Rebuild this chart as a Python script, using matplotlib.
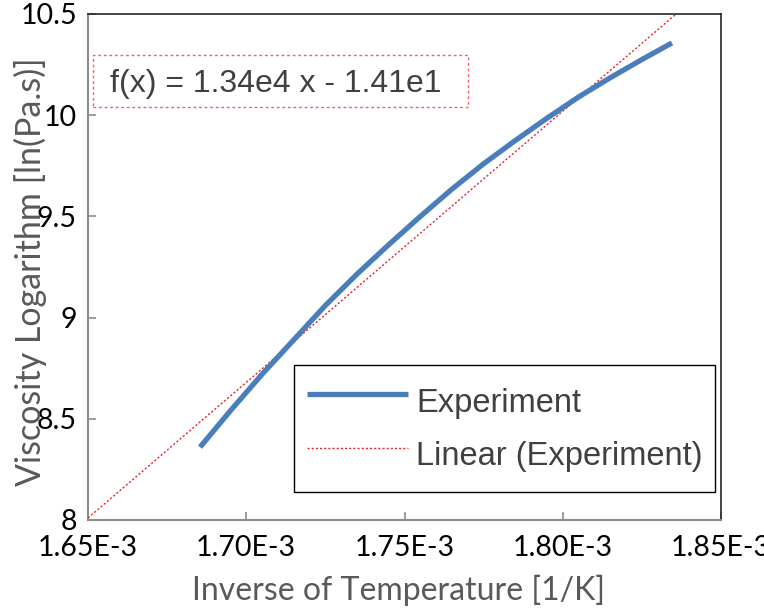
import matplotlib
matplotlib.use('Agg')
import matplotlib.pyplot as plt
import matplotlib.patches as patches
import numpy as np

# ── Data ──────────────────────────────────────────────────────────────────────
inv_temp = [1.6854e-3, 1.695e-3, 1.705e-3, 1.715e-3, 1.725e-3, 1.735e-3,
            1.745e-3, 1.755e-3, 1.765e-3, 1.775e-3, 1.785e-3, 1.795e-3,
            1.805e-3, 1.815e-3, 1.825e-3, 1.8345e-3]
log_visc = [8.36, 8.54, 8.72, 8.89, 9.06, 9.215,
            9.36, 9.50, 9.635, 9.76, 9.875, 9.985,
            10.09, 10.185, 10.275, 10.357]

fit_slope     = 1.34e4
fit_intercept = -1.41e1
fit_label     = 'f(x) = 1.34e4 x - 1.41e1'

x_ticks  = [1.65e-3, 1.70e-3, 1.75e-3, 1.80e-3, 1.85e-3]
x_labels = ['1.65E-3', '1.70E-3', '1.75E-3', '1.80E-3', '1.85E-3']
y_ticks  = [8, 8.5, 9, 9.5, 10, 10.5]
y_labels = ['8', '8.5', '9', '9.5', '10', '10.5']

# ── Style ─────────────────────────────────────────────────────────────────────
BLUE      = '#4a7ebb'
RED       = '#e3262e'
GRAY_AXIS = '#8c8c8c'
TEXT_GRAY = '#595959'
TICK_FONT = 'Lato'
BOX_FONT  = 'Liberation Sans'

fig = plt.figure(figsize=(7.64, 6.12), dpi=100)
ax = fig.add_axes([88 / 764, 1 - 520 / 612, 633 / 764, 506 / 612])

# Experiment curve
ax.plot(inv_temp, log_visc, color=BLUE, linewidth=3.8,
        solid_capstyle='butt', solid_joinstyle='round',
        label='Experiment', zorder=4)

# Linear trendline across the full x range
xf = np.array([x_ticks[0], x_ticks[-1]])
ax.plot(xf, fit_slope * xf + fit_intercept, color=RED, linewidth=1.0,
        linestyle=(0, (1.5, 1.5)), label='Linear (Experiment)', zorder=3)

ax.set_xlim(x_ticks[0], x_ticks[-1])
ax.set_ylim(y_ticks[0], y_ticks[-1])

# ── Axes / ticks ──────────────────────────────────────────────────────────────
ax.set_xticks(x_ticks)
ax.set_xticklabels(x_labels, fontsize=20.5, family=TICK_FONT, color='black')
ax.set_yticks(y_ticks)
ax.set_yticklabels(y_labels, fontsize=20.5, family=TICK_FONT, color='black')
ax.tick_params(axis='both', direction='in', color=GRAY_AXIS, width=1.2)
ax.tick_params(axis='x', length=6, pad=11)
ax.tick_params(axis='y', length=6, pad=8)

for side in ('left', 'bottom'):
    ax.spines[side].set_color(GRAY_AXIS)
    ax.spines[side].set_linewidth(1.5)
for side in ('top', 'right'):
    ax.spines[side].set_color('#262626')
    ax.spines[side].set_linewidth(1.2)

ax.set_xlabel('Inverse of Temperature [1/K]', fontsize=23,
              family=TICK_FONT, color=TEXT_GRAY, va='center')
ax.xaxis.set_label_coords(0.49, -70 / 506)
ax.set_ylabel('Viscosity Logarithm [ln(Pa.s)]', fontsize=24.5,
              family=TICK_FONT, color=TEXT_GRAY, va='center')
ax.yaxis.set_label_coords(-58 / 633, 0.49)

# ── Trendline equation box ────────────────────────────────────────────────────
ax.add_patch(patches.Rectangle((5 / 633, 413 / 506), 375 / 633, 52 / 506,
                               transform=ax.transAxes, fill=False,
                               edgecolor='#ff5a5a', linewidth=1.0,
                               linestyle=(0, (2, 2)), zorder=5))
ax.text(188 / 633, 436 / 506, fit_label, transform=ax.transAxes,
        ha='center', va='center', fontsize=23, family=BOX_FONT,
        color='#404040', zorder=6)

# ── Legend ────────────────────────────────────────────────────────────────────
leg = ax.legend(loc='lower right', bbox_to_anchor=(627 / 633, 28 / 506),
                prop={'family': BOX_FONT, 'size': 23.5}, frameon=True,
                fancybox=False, framealpha=1, edgecolor='black',
                handlelength=3.1, handleheight=1.95, handletextpad=0.25,
                borderpad=0.38, labelspacing=0.12, borderaxespad=0)
leg.get_frame().set_linewidth(1.0)
for t in leg.get_texts():
    t.set_color('#404040')

fig.savefig('out.png', dpi=100)
